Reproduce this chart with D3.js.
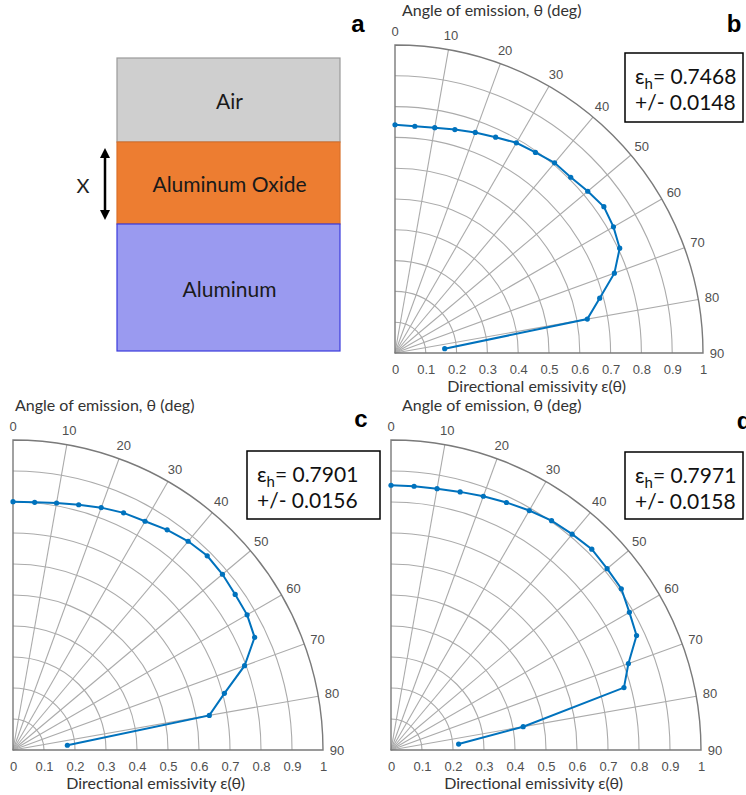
<!DOCTYPE html>
<html>
<head>
  <meta charset='utf-8'>
  <title>Directional emissivity</title>
  <script src="https://d3js.org/d3.v7.min.js"></script>
  <style>
    body { margin: 0; background: #fff; }
    svg { display: block; }
  </style>
</head>
<body>
  <div id="container"></div>

  <script>
  // emission angles (deg) and measured directional emissivity for each sample
  const thetaDeg = [0, 5, 10, 15, 20, 25, 30, 35, 40, 45, 50, 55, 60, 65, 70, 75, 80, 85];
  const emisB = [0.741, 0.739, 0.743, 0.751, 0.762, 0.773, 0.788, 0.795, 0.806, 0.807, 0.817, 0.828, 0.819, 0.805, 0.758, 0.688, 0.634, 0.162];
  const emisC = [0.801, 0.802, 0.809, 0.819, 0.832, 0.844, 0.852, 0.867, 0.879, 0.886, 0.882, 0.875, 0.872, 0.860, 0.795, 0.706, 0.643, 0.176];
  const emisD = [0.854, 0.854, 0.856, 0.862, 0.871, 0.881, 0.892, 0.903, 0.909, 0.916, 0.910, 0.907, 0.888, 0.874, 0.815, 0.778, 0.433, 0.219];

  const hemiValues = ["0.7468", "0.7901", "0.7971"];
  const hemiErrors = ["0.0148", "0.0156", "0.0158"];

  const radialTicks = [0, 0.1, 0.2, 0.3, 0.4, 0.5, 0.6, 0.7, 0.8, 0.9, 1];
  const thetaTicks = [0, 10, 20, 30, 40, 50, 60, 70, 80, 90];

  const layerNames = ["Air", "Aluminum Oxide", "Aluminum"];

  const width = 746, height = 795;
  const textFont = "Lato, 'Open Sans', sans-serif";
  const tickFont = "'Liberation Sans', Arial, sans-serif";

  const svg = d3.select("#container").append("svg")
    .attr("width", width)
    .attr("height", height);

  svg.append("defs").append("marker")
    .attr("id", "head")
    .attr("viewBox", "0 0 10 10")
    .attr("refX", 5).attr("refY", 5)
    .attr("markerWidth", 4).attr("markerHeight", 4)
    .attr("orient", "auto-start-reverse")
    .append("path")
    .attr("d", "M0,0 L10,5 L0,10 z")
    .attr("fill", "#000");

  // ---- panel a : layer stack
  const stack = { x: 117, w: 223, edges: [58, 142, 224, 351] };
  const layerFill = ["#cfcfcf", "#ed7d31", "#9a9af0"];
  const layerStroke = ["#9a9a9a", "#d9712b", "#3b3bdc"];

  const ga = svg.append("g");
  ga.selectAll("rect")
    .data(layerNames)
    .enter()
    .append("rect")
    .attr("x", stack.x)
    .attr("y", (d, i) => stack.edges[i])
    .attr("width", stack.w)
    .attr("height", (d, i) => stack.edges[i + 1] - stack.edges[i])
    .attr("fill", (d, i) => layerFill[i])
    .attr("stroke", (d, i) => layerStroke[i])
    .attr("stroke-width", 1.2);

  ga.selectAll("text.layer")
    .data(layerNames)
    .enter()
    .append("text")
    .attr("class", "layer")
    .attr("x", stack.x + stack.w / 2 + 1)
    .attr("y", (d, i) => [100, 183, 288][i])
    .attr("text-anchor", "middle")
    .attr("dominant-baseline", "central")
    .attr("font-family", textFont)
    .attr("font-size", 21)
    .attr("fill", "#1a1a1a")
    .text(d => d);

  ga.append("line")
    .attr("x1", 105).attr("x2", 105)
    .attr("y1", 153).attr("y2", 215)
    .attr("stroke", "#000")
    .attr("stroke-width", 2.5)
    .attr("marker-start", "url(#head)")
    .attr("marker-end", "url(#head)");

  ga.append("text")
    .attr("x", 83).attr("y", 185)
    .attr("text-anchor", "middle")
    .attr("dominant-baseline", "central")
    .attr("font-family", textFont)
    .attr("font-size", 20)
    .attr("fill", "#222")
    .text("X");

  // ---- polar panels
  const panels = [
    { id: "b", data: emisB, hemi: 0, cx: 395, cy: 353, R: 308, titleX: 402, box: [625, 53, 118, 69], lab: [734, 32] },
    { id: "c", data: emisC, hemi: 1, cx: 13, cy: 750, R: 310, titleX: 15, box: [247, 451, 133, 68], lab: [361, 427] },
    { id: "d", data: emisD, hemi: 2, cx: 391, cy: 750, R: 310, titleX: 402, box: [625, 452, 118, 67], lab: [744, 429] }
  ];

  panels.forEach(p => {
    const r = d3.scaleLinear().domain([0, 1]).range([0, p.R]);
    const ang = d3.scaleLinear().domain([0, 90]).range([0, Math.PI / 2]);
    const g = svg.append("g").attr("transform", `translate(${p.cx},${p.cy})`);

    // radial circles
    g.selectAll("path.ring")
      .data(radialTicks.slice(1, -1))
      .enter()
      .append("path")
      .attr("class", "ring")
      .attr("d", v => {
        const pa = d3.path();
        pa.moveTo(0, -r(v));
        pa.arc(0, 0, r(v), -Math.PI / 2, 0);
        return pa.toString();
      })
      .attr("fill", "none")
      .attr("stroke", "#ababab")
      .attr("stroke-width", 1.1);

    // angle spokes
    g.selectAll("line.spoke")
      .data(thetaTicks.slice(1, -1))
      .enter()
      .append("line")
      .attr("class", "spoke")
      .attr("x1", 0).attr("y1", 0)
      .attr("x2", t => r(1) * Math.sin(ang(t)))
      .attr("y2", t => -r(1) * Math.cos(ang(t)))
      .attr("stroke", "#ababab")
      .attr("stroke-width", 1.1);

    // outer frame
    const frame = d3.path();
    frame.moveTo(0, 0);
    frame.lineTo(0, -r(1));
    frame.arc(0, 0, r(1), -Math.PI / 2, 0);
    frame.closePath();
    g.append("path")
      .attr("d", frame.toString())
      .attr("fill", "none")
      .attr("stroke", "#7a7a7a")
      .attr("stroke-width", 1.4);

    // theta tick labels
    g.selectAll("text.theta")
      .data(thetaTicks)
      .enter()
      .append("text")
      .attr("class", "theta")
      .attr("x", t => (r(1) + 14) * Math.sin(ang(t)))
      .attr("y", t => -(r(1) + 14) * Math.cos(ang(t)))
      .attr("text-anchor", "middle")
      .attr("dominant-baseline", "central")
      .attr("font-family", tickFont)
      .attr("font-size", 13)
      .attr("fill", "#505050")
      .text(t => t);

    // radial axis along bottom
    const axis = d3.axisBottom(r)
      .tickValues(radialTicks)
      .tickSize(0)
      .tickPadding(12)
      .tickFormat(d => (d === 0 || d === 1) ? d3.format("d")(d) : d3.format(".1f")(d));
    const ax = g.append("g").call(axis);
    ax.select(".domain").remove();
    ax.selectAll("text")
      .attr("font-family", tickFont)
      .attr("font-size", 13)
      .attr("fill", "#505050");

    // data line
    const pts = thetaDeg.map((t, i) => [t, p.data[i]]);
    const line = d3.lineRadial()
      .angle(d => ang(d[0]))
      .radius(d => r(d[1]));
    g.append("path")
      .datum(pts)
      .attr("d", line)
      .attr("fill", "none")
      .attr("stroke", "#0072bd")
      .attr("stroke-width", 2);
    g.selectAll("circle.pt")
      .data(pts)
      .enter()
      .append("circle")
      .attr("class", "pt")
      .attr("cx", d => r(d[1]) * Math.sin(ang(d[0])))
      .attr("cy", d => -r(d[1]) * Math.cos(ang(d[0])))
      .attr("r", 2.6)
      .attr("fill", "#0072bd");

    // titles
    svg.append("text")
      .attr("x", p.titleX)
      .attr("y", p.cy - p.R - 29)
      .attr("font-family", textFont)
      .attr("font-size", 16)
      .attr("fill", "#333")
      .text("Angle of emission, \u03b8 (deg)");

    svg.append("text")
      .attr("x", p.cx + p.R * 0.46)
      .attr("y", p.cy + 39)
      .attr("text-anchor", "middle")
      .attr("font-family", textFont)
      .attr("font-size", 16)
      .attr("fill", "#333")
      .text("Directional emissivity \u03b5(\u03b8)");

    // hemispherical value box
    svg.append("rect")
      .attr("x", p.box[0]).attr("y", p.box[1])
      .attr("width", p.box[2]).attr("height", p.box[3])
      .attr("fill", "#fff")
      .attr("stroke", "#000")
      .attr("stroke-width", 1.5);
    const t1 = svg.append("text")
      .attr("x", p.box[0] + 10)
      .attr("y", p.box[1] + 31)
      .attr("font-family", textFont)
      .attr("font-size", 21)
      .attr("fill", "#111");
    t1.append("tspan").text("\u03b5");
    t1.append("tspan").attr("font-size", 15).attr("dy", 5).text("h");
    t1.append("tspan").attr("dy", -5).text("= " + hemiValues[p.hemi]);
    svg.append("text")
      .attr("x", p.box[0] + 10)
      .attr("y", p.box[1] + 57)
      .attr("font-family", textFont)
      .attr("font-size", 21)
      .attr("fill", "#111")
      .text("+/- " + hemiErrors[p.hemi]);

    svg.append("text")
      .attr("x", p.lab[0]).attr("y", p.lab[1])
      .attr("text-anchor", "middle")
      .attr("font-family", tickFont)
      .attr("font-weight", "bold")
      .attr("font-size", 24)
      .attr("fill", "#000")
      .text(p.id);
  });

  svg.append("text")
    .attr("x", 358).attr("y", 32)
    .attr("text-anchor", "middle")
    .attr("font-family", tickFont)
    .attr("font-weight", "bold")
    .attr("font-size", 24)
    .attr("fill", "#000")
    .text("a");
  </script>
</body>
</html>
